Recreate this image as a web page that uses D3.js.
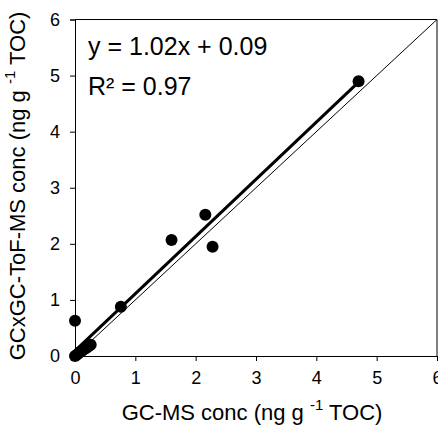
<!DOCTYPE html>
<html>
<head>
<meta charset="utf-8">
<script src="https://cdn.jsdelivr.net/npm/d3@7"></script>
<style>
  html, body { margin: 0; padding: 0; background: #fff; }
  svg { display: block; font-family: "Liberation Sans", Arial, sans-serif; }
</style>
</head>
<body>
<svg id="chart" width="438" height="425"></svg>
<script>
// Data
const gcmsValues   = [0, 0.03, 0.06, 0.10, 0.14, 0.18, 0.22, 0.26, 0.00, 0.76, 1.60, 2.16, 2.28, 4.70];
const gcxgcValues  = [0, 0.02, 0.05, 0.08, 0.11, 0.14, 0.17, 0.20, 0.63, 0.88, 2.07, 2.52, 1.95, 4.90];
const tickValues   = [0, 1, 2, 3, 4, 5, 6];
const fitSlope = 1.02;
const fitIntercept = 0.09;
const fitRange = [0, 4.7];
const oneToOneRange = [0, 6];
const equationLines = ["y = 1.02x + 0.09", "R² = 0.97"];

const svg = d3.select("#chart");
const x = d3.scaleLinear().domain([0, 6]).range([75, 437]);
const y = d3.scaleLinear().domain([0, 6]).range([356, 19.5]);

// 1:1 line
svg.append("line")
  .attr("x1", x(oneToOneRange[0])).attr("y1", y(oneToOneRange[0]))
  .attr("x2", x(oneToOneRange[1])).attr("y2", y(oneToOneRange[1]))
  .attr("stroke", "#000").attr("stroke-width", 1);

// Regression line
svg.append("line")
  .attr("x1", x(fitRange[0])).attr("y1", y(fitSlope * fitRange[0] + fitIntercept))
  .attr("x2", x(fitRange[1])).attr("y2", y(fitSlope * fitRange[1] + fitIntercept))
  .attr("stroke", "#000").attr("stroke-width", 3);

// Points
svg.append("g").selectAll("circle")
  .data(gcmsValues.map((v, i) => [v, gcxgcValues[i]]))
  .join("circle")
  .attr("cx", d => x(d[0])).attr("cy", d => y(d[1]))
  .attr("r", 6).attr("fill", "#000");

// Frame (top and right)
svg.append("line").attr("x1", x(0)).attr("x2", x(6)).attr("y1", y(6)).attr("y2", y(6)).attr("stroke", "#000");
svg.append("line").attr("x1", x(6)).attr("x2", x(6)).attr("y1", y(0)).attr("y2", y(6)).attr("stroke", "#000");

// Axes
const xAxis = svg.append("g").attr("transform", `translate(0,${y(0)})`)
  .call(d3.axisBottom(x).tickValues(tickValues).tickSize(5).tickPadding(10).tickFormat(d3.format("d")));
const yAxis = svg.append("g").attr("transform", `translate(${x(0)},0)`)
  .call(d3.axisLeft(y).tickValues(tickValues).tickSize(5).tickPadding(10).tickFormat(d3.format("d")));
[xAxis, yAxis].forEach(g => {
  g.select(".domain").attr("stroke", "#000");
  g.selectAll("line").attr("stroke", "#000");
  g.selectAll("text").attr("font-family", "Liberation Sans, Arial, sans-serif").attr("font-size", 18).attr("fill", "#000");
});

// Equation text
svg.append("g").selectAll("text")
  .data(equationLines)
  .join("text")
  .attr("x", 88).attr("y", (d, i) => 55 + i * 40)
  .attr("font-size", 25).attr("fill", "#000")
  .text(d => d);

// X title
const xt = svg.append("text")
  .attr("x", 252).attr("y", 420)
  .attr("text-anchor", "middle").attr("font-size", 22).attr("fill", "#000");
xt.append("tspan").text("GC-MS conc (ng g ");
xt.append("tspan").attr("font-size", 15).attr("dy", -10).text("-1");
xt.append("tspan").attr("dy", 10).text(" TOC)");

// Y title
const yt = svg.append("text")
  .attr("transform", "translate(25,186) rotate(-90)")
  .attr("text-anchor", "middle").attr("font-size", 22).attr("fill", "#000");
yt.append("tspan").text("GCxGC-ToF-MS conc (ng g ");
yt.append("tspan").attr("font-size", 15).attr("dy", -10).text("-1");
yt.append("tspan").attr("dy", 10).text(" TOC)");
</script>
</body>
</html>
